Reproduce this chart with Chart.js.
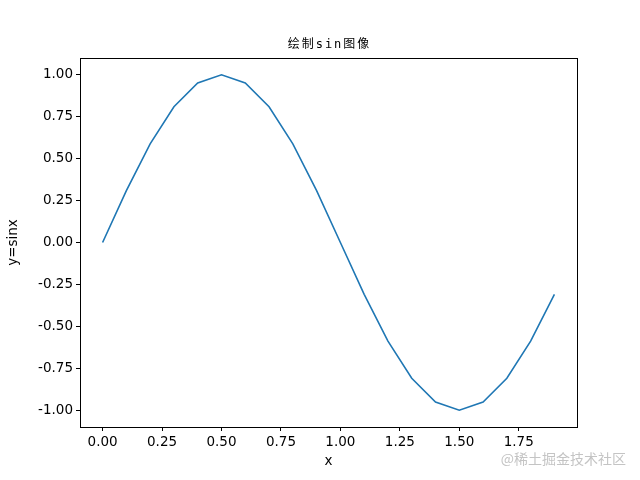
<!DOCTYPE html>
<html>
<head>
<meta charset="utf-8">
<script src="https://cdn.jsdelivr.net/npm/chart.js@4.4.1/dist/chart.umd.min.js"></script>
<style>
  html, body { margin: 0; padding: 0; background: #fff; }
  #wrap { position: relative; width: 640px; height: 480px; }
  #mark {
    position: absolute; right: 14px; top: 448px;
    font: 14px "Noto Sans CJK SC", sans-serif; color: #c4c4c4;
  }
</style>
</head>
<body>
<div id="wrap">
  <canvas id="chart" width="640" height="480"></canvas>
  <div id="mark">@稀土掘金技术社区</div>
</div>
<script>
// sin curve values, x step 0.1
const xValues = [0.0, 0.1, 0.2, 0.3, 0.4, 0.5, 0.6, 0.7, 0.8, 0.9,
                 1.0, 1.1, 1.2, 1.3, 1.4, 1.5, 1.6, 1.7, 1.8, 1.9];
const yValues = [0.0, 0.309, 0.588, 0.809, 0.951, 1.0, 0.951, 0.809, 0.588, 0.309,
                 0.0, -0.309, -0.588, -0.809, -0.951, -1.0, -0.951, -0.809, -0.588, -0.309];
const xTicks = [0, 0.25, 0.5, 0.75, 1.0, 1.25, 1.5, 1.75];
const yTicks = [-1.0, -0.75, -0.5, -0.25, 0, 0.25, 0.5, 0.75, 1.0];

const tickFont = { family: "DejaVu Sans", size: 13.5 };

// Draws the full axes box and the title the way matplotlib does.
const frame = {
  id: "frame",
  afterDraw(chart) {
    const { ctx, chartArea: a } = chart;
    ctx.save();
    ctx.strokeStyle = "#000";
    ctx.lineWidth = 1;
    ctx.strokeRect(Math.round(a.left) + 0.5, Math.round(a.top) + 0.5,
      Math.round(a.right - a.left), Math.round(a.bottom - a.top));
    ctx.fillStyle = "#000";
    ctx.font = '12px "DejaVu Sans Mono", "Noto Sans CJK SC"';
    ctx.letterSpacing = "2px";
    ctx.textAlign = "center";
    ctx.textBaseline = "alphabetic";
    ctx.fillText("绘制sin图像", (a.left + a.right) / 2 + 1, 48);
    ctx.restore();
  }
};

new Chart(document.getElementById("chart"), {
  type: "line",
  data: {
    datasets: [{
      data: xValues.map((x, i) => ({ x, y: yValues[i] })),
      borderColor: "#1f77b4",
      borderWidth: 1.6,
      pointRadius: 0,
      tension: 0,
      fill: false
    }]
  },
  options: {
    responsive: false,
    animation: false,
    layout: { padding: { top: 58, right: 63, left: 0, bottom: 0 } },
    plugins: { legend: { display: false }, tooltip: { enabled: false } },
    scales: {
      x: {
        type: "linear",
        min: -0.095,
        max: 1.995,
        afterBuildTicks: s => { s.ticks = xTicks.map(value => ({ value })); },
        afterFit: s => { s.height = 53; },
        grid: { display: true, drawOnChartArea: false, drawTicks: true, tickLength: 4, color: "#000" },
        border: { display: true, color: "#000" },
        ticks: { color: "#000", font: tickFont, padding: 3, maxRotation: 0, callback: v => v.toFixed(2) },
        title: { display: true, text: "x", color: "#000", font: tickFont, padding: { top: 0, bottom: 10 } }
      },
      y: {
        min: -1.1,
        max: 1.1,
        afterBuildTicks: s => { s.ticks = yTicks.map(value => ({ value })); },
        afterFit: s => { s.width = 80; },
        grid: { display: true, drawOnChartArea: false, drawTicks: true, tickLength: 4, color: "#000" },
        border: { display: true, color: "#000" },
        ticks: { color: "#000", font: tickFont, padding: 3, callback: v => v.toFixed(2) },
        title: { display: true, text: "y=sinx", color: "#000", font: tickFont, padding: { top: 5, bottom: 2 } }
      }
    }
  },
  plugins: [frame]
});
</script>
</body>
</html>
